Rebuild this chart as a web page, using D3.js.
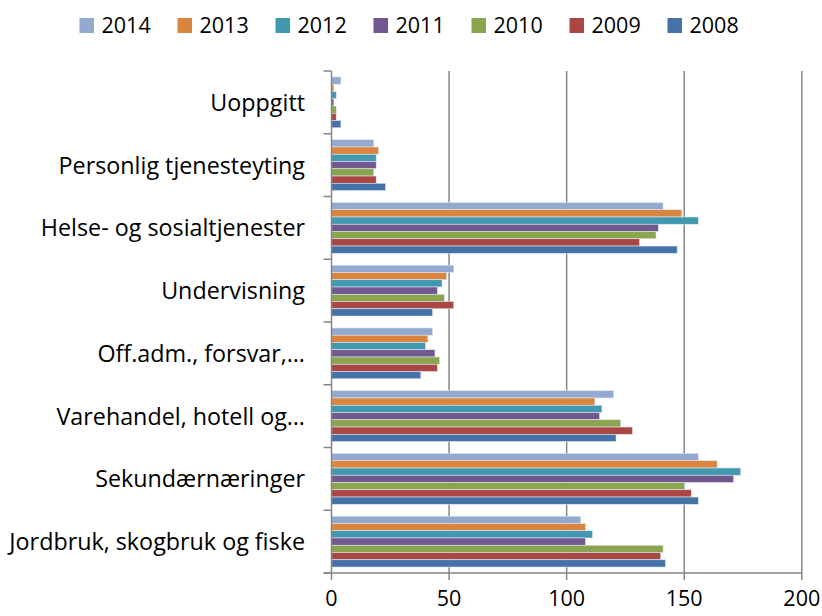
<!DOCTYPE html>
<html><head><meta charset="utf-8">
<script src="https://cdn.jsdelivr.net/npm/d3@7"></script>
<style>body{margin:0;background:#fff}svg{display:block}text{font-family:"Open Sans",sans-serif;fill:#000}</style>
</head><body><svg id="c" width="822" height="616"></svg>
<script>
const categories = ["Uoppgitt","Personlig tjenesteyting","Helse- og sosialtjenester","Undervisning","Off.adm., forsvar,…","Varehandel, hotell og…","Sekundærnæringer","Jordbruk, skogbruk og fiske"];
const years = ["2014","2013","2012","2011","2010","2009","2008"];
const v2014 = [4,18,141,52,43,120,156,106];
const v2013 = [1,20,149,49,41,112,164,108];
const v2012 = [2,19,156,47,40,115,174,111];
const v2011 = [1,19,139,45,44,114,171,108];
const v2010 = [2,18,138,48,46,123,150,141];
const v2009 = [2,19,131,52,45,128,153,140];
const v2008 = [4,23,147,43,38,121,156,142];
const xTicks = [0,50,100,150,200];
const colors = ["#93A9D0","#DB843D","#4198AF","#71588F","#89A54E","#AA4643","#4572A7"];
const seriesVals = [v2014,v2013,v2012,v2011,v2010,v2009,v2008];

const svg = d3.select("#c");
const L=331.5, R=801.8, T=71, B=573;
const x = d3.scaleLinear().domain([0,200]).range([L,R]);
const y = d3.scaleBand().domain(categories).range([T,B]).paddingInner(0.19).paddingOuter(0.095);
const yi = d3.scaleBand().domain(years).range([0,y.bandwidth()]);
const outer = d3.scaleBand().domain(categories).range([T,B]);

// gridlines
svg.append("g").selectAll("line").data(xTicks.slice(1)).join("line")
  .attr("x1",d=>x(d)).attr("x2",d=>x(d)).attr("y1",T).attr("y2",B)
  .attr("stroke","#868686").attr("stroke-width",1.5);

// bars
const g = svg.append("g");
categories.forEach((c,ci)=>{
  years.forEach((yr,si)=>{
    g.append("rect").attr("x",x(0)).attr("y",y(c)+yi(yr))
     .attr("width",x(seriesVals[si][ci])-x(0)).attr("height",yi.bandwidth())
     .attr("fill",colors[si]).attr("stroke","#dfe6f0").attr("stroke-width",0.6);
  });
});

// y axis
svg.append("line").attr("x1",L).attr("x2",L).attr("y1",T).attr("y2",B).attr("stroke","#868686").attr("stroke-width",1.5);
const bounds = categories.map(c=>outer(c)).concat([B]);
svg.append("g").selectAll("line").data(bounds).join("line")
  .attr("x1",L-8).attr("x2",L).attr("y1",d=>d).attr("y2",d=>d).attr("stroke","#868686").attr("stroke-width",1.5);
svg.append("g").selectAll("text").data(categories).join("text")
  .attr("x",305).attr("y",d=>outer(d)+outer.bandwidth()/2).attr("dy","0.36em")
  .attr("text-anchor","end").attr("font-size",23.3).text(d=>d);

// x axis
svg.append("line").attr("x1",L-8).attr("x2",R).attr("y1",B).attr("y2",B).attr("stroke","#868686").attr("stroke-width",1.5);
svg.append("g").selectAll("line").data(xTicks).join("line")
  .attr("x1",d=>x(d)).attr("x2",d=>x(d)).attr("y1",B).attr("y2",B+7).attr("stroke","#868686").attr("stroke-width",1.5);
svg.append("g").selectAll("text").data(xTicks).join("text")
  .attr("x",d=>x(d)).attr("y",598).attr("dy","0.36em").attr("text-anchor","middle").attr("font-size",21.5).text(d=>d);

// legend
const lg = svg.append("g");
years.forEach((yr,i)=>{
  const gx = 79.5 + i*98;
  lg.append("rect").attr("x",gx).attr("y",18).attr("width",14.5).attr("height",15).attr("fill",colors[i]);
  lg.append("text").attr("x",gx+22).attr("y",25.5).attr("dy","0.36em").attr("font-size",21.5).text(yr);
});
</script></body></html>
